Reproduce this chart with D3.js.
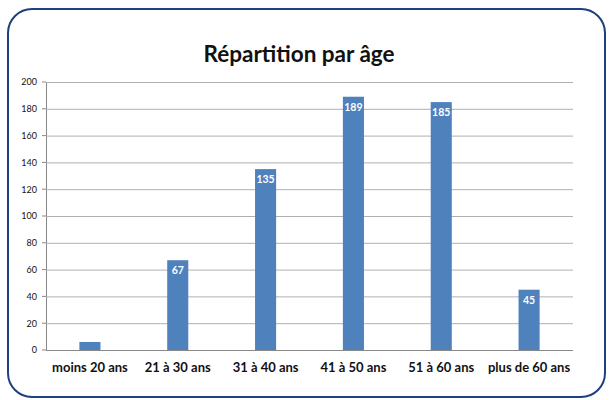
<!DOCTYPE html>
<html><head><meta charset="utf-8">
<script src="https://cdn.jsdelivr.net/npm/d3@7"></script>
<style>body{margin:0;background:#fff}svg{display:block}</style>
</head><body>
<script>
const categories = ["moins 20 ans","21 à 30 ans","31 à 40 ans","41 à 50 ans","51 à 60 ans","plus de 60 ans"];
const values = [6, 67, 135, 189, 185, 45];
const valueLabels = ["", "67", "135", "189", "185", "45"];
const yTicks = [0,20,40,60,80,100,120,140,160,180,200];
const title = "Répartition par âge";

(function(){
const W = 609, H = 400;
const svg = d3.select("body").append("svg").attr("width", W).attr("height", H);
const font = "Lato, 'Open Sans', sans-serif";

svg.append("rect").attr("x", 8).attr("y", 9).attr("width", 597).attr("height", 388)
  .attr("rx", 24).attr("ry", 24).attr("fill", "#fff").attr("stroke", "#1f3f7f").attr("stroke-width", 2);

svg.append("text").attr("x", 299).attr("y", 62).attr("text-anchor", "middle")
  .attr("font-family", font).attr("font-weight", "bold").attr("font-size", 22.5).attr("fill", "#111")
  .text(title);

const pl = 46, pr = 573, pt = 82, pb = 350;
const x = d3.scaleBand().domain(categories).range([pl, pr]).paddingInner(0.76).paddingOuter(0.38);
const y = d3.scaleLinear().domain([0, 200]).range([pb, pt]);

const yAxis = svg.append("g").attr("transform", `translate(${pl},0)`)
  .call(d3.axisLeft(y).tickValues(yTicks).tickSize(-(pr-pl)).tickPadding(9));
yAxis.select(".domain").attr("stroke", "#888");
yAxis.selectAll(".tick line").attr("stroke", "#b0b0b0").attr("stroke-width", 1);
yAxis.selectAll(".tick text").attr("font-family", font).attr("font-size", 9).attr("fill", "#111");
yAxis.selectAll(".tick line").filter(d => d === 0).attr("stroke", "#888");
svg.append("g").selectAll("line").data(yTicks).join("line")
  .attr("x1", pl - 4).attr("x2", pl).attr("y1", d => y(d)).attr("y2", d => y(d))
  .attr("stroke", "#888");

svg.append("g").selectAll("rect").data(values).join("rect")
  .attr("x", (d,i) => x(categories[i])).attr("width", x.bandwidth())
  .attr("y", d => y(d)).attr("height", d => y(0) - y(d)).attr("fill", "#4f81bd");

svg.append("g").selectAll("text").data(values).join("text")
  .attr("x", (d,i) => x(categories[i]) + x.bandwidth()/2).attr("y", d => y(d) + 14)
  .attr("text-anchor", "middle").attr("font-family", font).attr("font-weight", "bold")
  .attr("font-size", 10.5).attr("fill", "#fff").text((d,i) => valueLabels[i]);

const xAxis = svg.append("g").attr("transform", `translate(0,${pb})`)
  .call(d3.axisBottom(x).tickSize(0).tickPadding(13));
xAxis.select(".domain").remove();
xAxis.selectAll(".tick text").attr("font-family", font).attr("font-weight", "bold")
  .attr("font-size", 13).attr("fill", "#111");
})();
</script>
</body></html>
